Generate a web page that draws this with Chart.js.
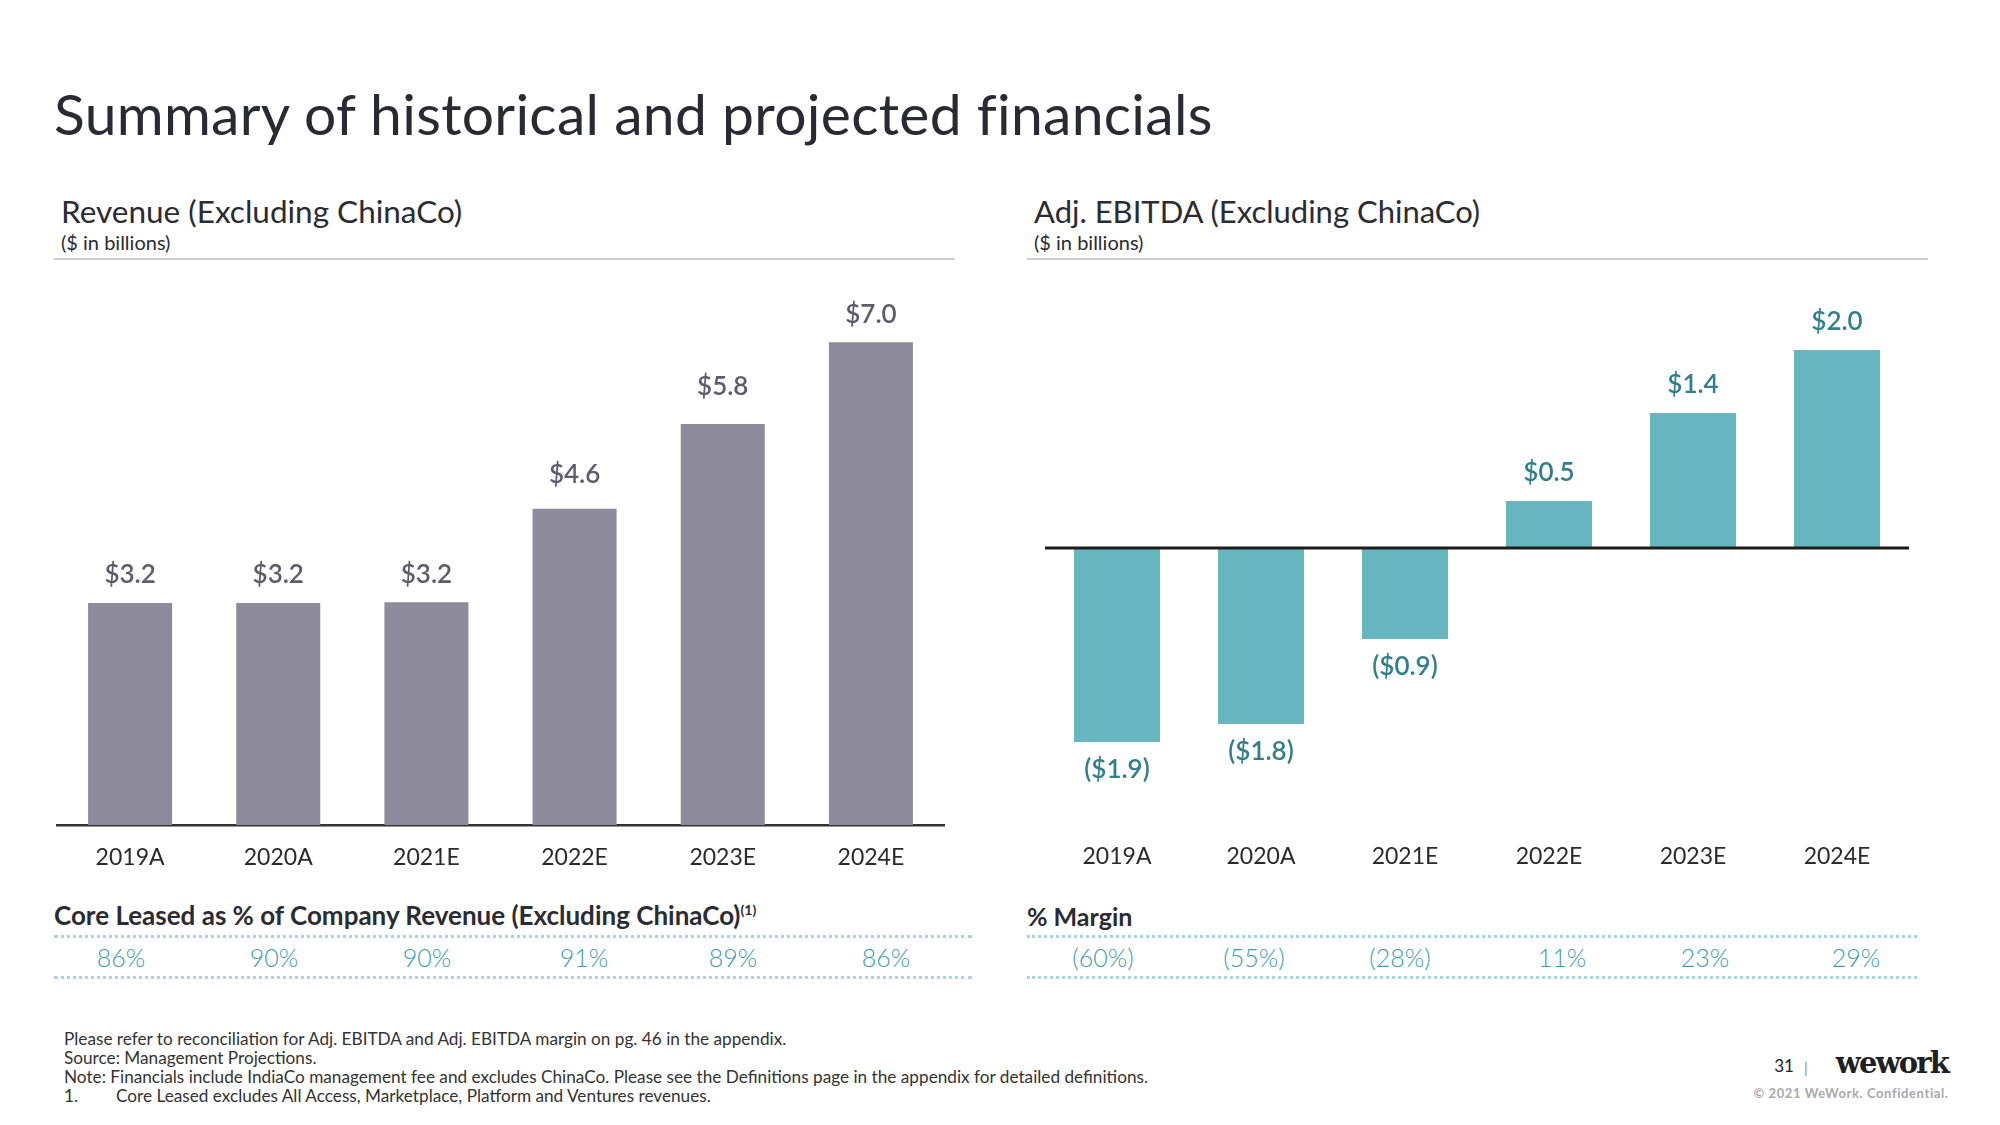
<!DOCTYPE html>
<html>
<head>
<meta charset="utf-8">
<script src="https://cdn.jsdelivr.net/npm/chart.js@4.4.1/dist/chart.umd.min.js"></script>
<style>
  html, body { margin: 0; padding: 0; background: #ffffff; }
  body { width: 2000px; height: 1125px; position: relative; overflow: hidden;
         font-family: Lato, "Noto Sans", sans-serif; color: #2b2b33; }
  .t { position: absolute; white-space: nowrap; line-height: 1.2; }
  .l { transform: translateY(-50%); }
  .c { transform: translate(-50%, -50%); }
  .rule { position: absolute; height: 0; border-top: 2px solid #cfcfd3; }
  .dots { position: absolute; height: 0; border-top: 3px dotted #a9d6de; }
  canvas { position: absolute; }
</style>
</head>
<body>
<div class="t l" style="left:54px;top:113px;font-size:57px;font-weight:400;letter-spacing:0.3px;color:#2a2a33;">Summary of historical and projected financials</div>

<div class="t l" style="left:61px;top:212px;font-size:31.5px;color:#2b2b33;">Revenue (Excluding ChinaCo)</div>
<div class="t l" style="left:61px;top:242px;font-size:20px;color:#2b2b33;">($ in billions)</div>
<div class="rule" style="left:54px;top:258px;width:901px;"></div>

<div class="t l" style="left:1034px;top:212px;font-size:31px;color:#2b2b33;">Adj. EBITDA (Excluding ChinaCo)</div>
<div class="t l" style="left:1034px;top:242px;font-size:20px;color:#2b2b33;">($ in billions)</div>
<div class="rule" style="left:1027px;top:258px;width:901px;"></div>

<canvas id="revChart" width="889" height="615" style="left:56px;top:270px;"></canvas>
<canvas id="ebitdaChart" width="864" height="600" style="left:1045px;top:288px;"></canvas>

<div class="t l" style="left:54px;top:916px;font-size:26px;font-weight:700;color:#2b2b33;">Core Leased as % of Company Revenue (Excluding ChinaCo)<sup style="font-size:14px;font-weight:700;vertical-align:10px;">(1)</sup></div>
<div class="dots" style="left:54px;top:935px;width:918px;"></div>
<div class="dots" style="left:54px;top:976px;width:918px;"></div>
<div id="coreRow"></div>

<div class="t l" style="left:1027px;top:916px;font-size:25px;font-weight:700;color:#2b2b33;">% Margin</div>
<div class="dots" style="left:1027px;top:935px;width:890px;"></div>
<div class="dots" style="left:1027px;top:976px;width:890px;"></div>
<div id="marginRow"></div>

<div class="t" style="left:64px;top:1029px;font-size:17.2px;line-height:19px;color:#333;">
Please refer to reconciliation for Adj. EBITDA and Adj. EBITDA margin on pg. 46 in the appendix.<br>
Source: Management Projections.<br>
Note: Financials include IndiaCo management fee and excludes ChinaCo. Please see the Definitions page in the appendix for detailed definitions.<br>
1.<span style="display:inline-block;width:38px;"></span>Core Leased excludes All Access, Marketplace, Platform and Ventures revenues.
</div>

<div class="t c" style="left:1784px;top:1066px;font-size:17px;color:#222;">31</div>
<div class="t c" style="left:1806px;top:1067px;font-size:15px;color:#888;">|</div>
<div class="t c" style="left:1892px;top:1063px;font-size:29px;font-weight:700;font-family:'DejaVu Serif','Liberation Serif',serif;letter-spacing:-1.8px;color:#1f1f24;">wework</div>
<div class="t c" style="left:1851px;top:1094px;font-size:13px;font-weight:700;letter-spacing:0.6px;color:#a8a8ad;">© 2021 WeWork. Confidential.</div>

<script>
// ---------- DATA ----------
const categories = ['2019A', '2020A', '2021E', '2022E', '2023E', '2024E'];
const revenue = [3.2, 3.2, 3.21, 4.56, 5.78, 6.96];           // $ billions
const adjEbitda = [-1.94, -1.76, -0.91, 0.47, 1.35, 1.98];     // $ billions
const coreLeasedPct = [86, 90, 90, 91, 89, 86];                // %
const ebitdaMarginPct = [-60, -55, -28, 11, 23, 29];           // %
const revenueRange = [0, 8];
const ebitdaRange = [-2.8, 2.6];

// ---------- helpers ----------
const fmtMoney = v => v < 0 ? '($' + Math.abs(v).toFixed(1) + ')' : '$' + v.toFixed(1);
const fmtPct = v => v < 0 ? '(' + Math.abs(v) + '%)' : v + '%';

function pctRow(containerId, values, xs) {
  const el = document.getElementById(containerId);
  values.forEach((v, i) => {
    const d = document.createElement('div');
    d.className = 't c';
    d.style.cssText = `left:${xs[i]}px;top:957px;font-size:25px;font-weight:300;color:#3b9db3;`;
    d.textContent = fmtPct(v);
    el.appendChild(d);
  });
}
pctRow('coreRow', coreLeasedPct, [121, 274, 427, 584, 733, 886]);
pctRow('marginRow', ebitdaMarginPct, [1103, 1254, 1400, 1562, 1705, 1856]);

const valueLabels = {
  id: 'valueLabels',
  afterDatasetsDraw(chart, args, opts) {
    const ctx = chart.ctx;
    const meta = chart.getDatasetMeta(0);
    const vals = chart.data.datasets[0].data;
    ctx.save();
    ctx.font = '600 26px Lato, "Noto Sans", sans-serif';
    ctx.fillStyle = opts.color;
    ctx.textAlign = 'center';
    ctx.textBaseline = 'middle';
    meta.data.forEach((bar, i) => {
      const v = vals[i];
      const off = opts.offsets[i];
      const y = v >= 0 ? bar.y - off : bar.y + off;
      ctx.fillText(fmtMoney(v), bar.x, y);
    });
    ctx.restore();
  }
};

const zeroLine = {
  id: 'zeroLine',
  afterDatasetsDraw(chart, args, opts) {
    if (!opts.enabled) return;
    const y = chart.scales.y.getPixelForValue(0);
    const ctx = chart.ctx;
    ctx.save();
    ctx.strokeStyle = '#1c1c1c';
    ctx.lineWidth = 3;
    ctx.beginPath();
    ctx.moveTo(chart.chartArea.left, y);
    ctx.lineTo(chart.chartArea.right, y);
    ctx.stroke();
    ctx.restore();
  }
};

function makeChart(id, values, range, barColor, labelColor, barPct, axisLine, zero, tickPad, offsets) {
  return new Chart(document.getElementById(id), {
    type: 'bar',
    data: {
      labels: categories,
      datasets: [{ data: values, backgroundColor: barColor, borderWidth: 0,
                   barPercentage: barPct, categoryPercentage: 1 }]
    },
    options: {
      responsive: false,
      animation: false,
      devicePixelRatio: 1,
      layout: { padding: 0 },
      plugins: {
        legend: { display: false },
        tooltip: { enabled: false },
        valueLabels: { color: labelColor, offsets: offsets },
        zeroLine: { enabled: zero }
      },
      scales: {
        x: {
          grid: { display: false, drawTicks: false },
          border: { display: axisLine, color: '#333333', width: 2.5 },
          ticks: { color: '#2a2a2a', padding: tickPad, font: { family: 'Lato, "Noto Sans", sans-serif', size: 23 } },
          afterFit: s => { s.height = 60; }
        },
        y: { display: false, min: range[0], max: range[1] }
      }
    },
    plugins: [valueLabels, zeroLine]
  });
}

makeChart('revChart', revenue, revenueRange, '#8e8c9c', '#5e5c6b', 0.567, true, false, 19, [28, 28, 28, 34, 37, 28]);
makeChart('ebitdaChart', adjEbitda, ebitdaRange, '#68b6c1', '#327f8a', 0.597, false, true, 15, [28, 28, 28, 28, 28, 28]);
</script>
</body>
</html>
